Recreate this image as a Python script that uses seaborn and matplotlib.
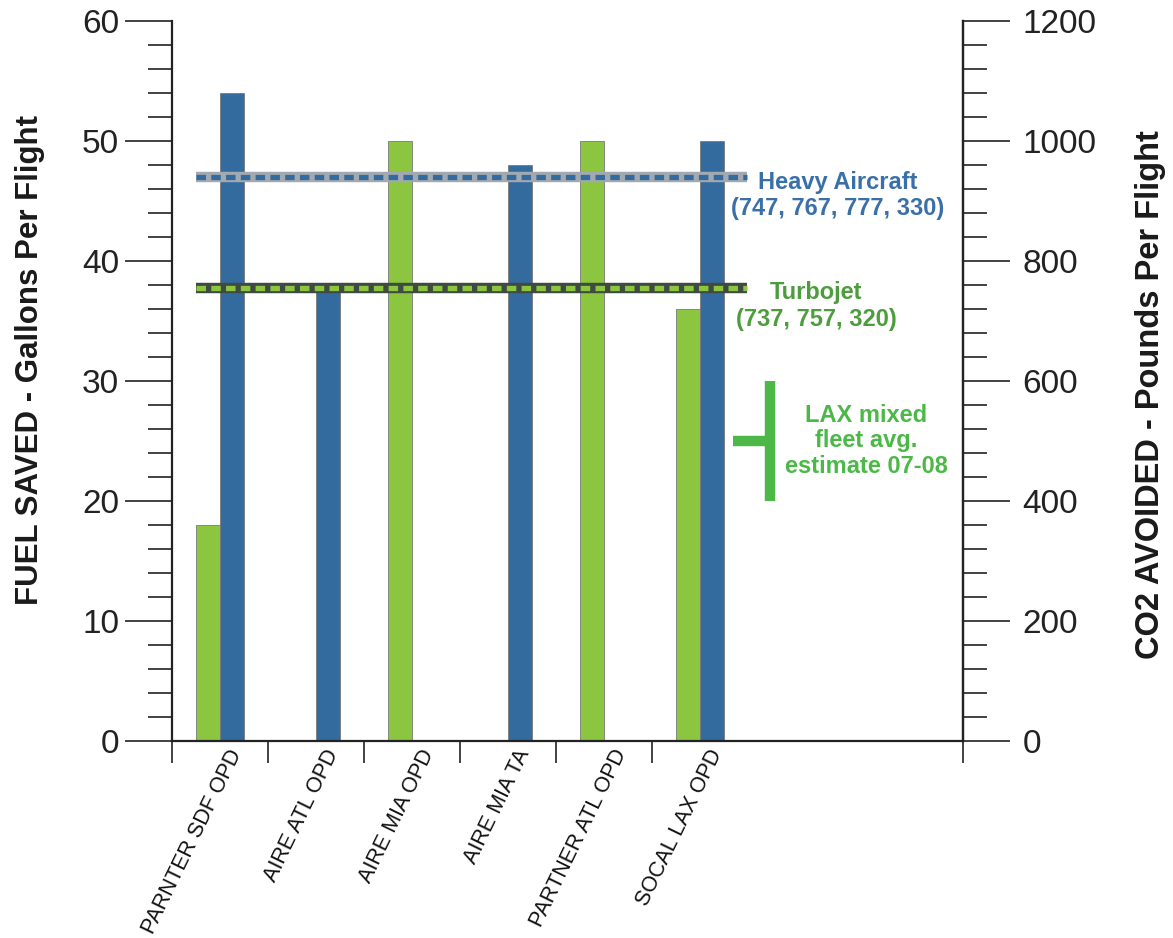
import numpy as np
import pandas as pd
import matplotlib
matplotlib.use("Agg")
import matplotlib.pyplot as plt
import matplotlib.transforms as mtransforms
from matplotlib.ticker import MultipleLocator, FixedLocator
import seaborn as sns

# data (gallons per flight)
categories = ["PARNTER SDF OPD", "AIRE ATL OPD", "AIRE MIA OPD",
              "AIRE MIA TA", "PARTNER ATL OPD", "SOCAL LAX OPD"]
turbojet_vals = [18, np.nan, 50, np.nan, 50, 36]
heavy_vals = [54, 37.5, np.nan, 48, np.nan, 50]
heavy_avg = 47
turbojet_avg = 37.75
lax_low, lax_avg, lax_high = 20, 25, 30

green = "#8cc641"
blue = "#346b9f"

sns.set_style("ticks")
plt.rcParams["font.family"] = ["Liberation Sans", "DejaVu Sans"]

rows = []
for cat, t, h in zip(categories, turbojet_vals, heavy_vals):
    if not np.isnan(t):
        rows.append({"category": cat, "fleet": "Turbojet", "gallons": t})
    if not np.isnan(h):
        rows.append({"category": cat, "fleet": "Heavy", "gallons": h})
df = pd.DataFrame(rows)

fig = plt.figure(figsize=(11.73, 9.38), dpi=100)
ax = fig.add_axes([172 / 1173, 1 - 741 / 938, (963 - 172) / 1173, 720 / 938])

sns.barplot(data=df, x="category", y="gallons", hue="fleet",
            order=categories, hue_order=["Turbojet", "Heavy"],
            palette={"Turbojet": green, "Heavy": blue},
            width=0.5, errorbar=None, legend=False, ax=ax,
            edgecolor="#7a7a7a", linewidth=0.6, saturation=1)

x_right = -0.5 + (963 - 172) / 96
ax.set_xlim(-0.5, x_right)
ax.set_ylim(0, 60)

# average reference lines: a wide band with dashes over it
ax.plot([-0.25, 5.49], [heavy_avg] * 2, color="#a3a9b0", lw=7.5,
        solid_capstyle="butt", zorder=4)
ax.plot([-0.25, 5.49], [heavy_avg] * 2, color=blue, lw=3.8,
        dashes=(1.8, 1.0), dash_capstyle="butt", zorder=5)
ax.plot([-0.25, 5.49], [turbojet_avg] * 2, color="#3f4a42", lw=7.5,
        solid_capstyle="butt", zorder=4)
ax.plot([-0.25, 5.49], [turbojet_avg] * 2, color=green, lw=3.8,
        dashes=(1.8, 1.0), dash_capstyle="butt", zorder=5)

# LAX mixed fleet range marker
lax_x = -0.5 + (770 - 172) / 96
ax.vlines(lax_x, lax_low, lax_high, color="#4cb848", lw=7.5,
          capstyle="butt", zorder=5)
ax.hlines(lax_avg, -0.5 + (733 - 172) / 96, lax_x, color="#4cb848",
          lw=7.5, capstyle="butt", zorder=5)

ax.text(-0.5 + (838 - 172) / 96, heavy_avg - 1.55,
        "Heavy Aircraft\n(747, 767, 777, 330)", color="#3a70a8",
        fontsize=17, fontweight="bold", ha="center", va="center",
        linespacing=1.2)
ax.text(-0.5 + (816 - 172) / 96, turbojet_avg - 1.5,
        "Turbojet\n(737, 757, 320)", color="#4d9d3f",
        fontsize=17, fontweight="bold", ha="center", va="center",
        linespacing=1.2)
ax.text(-0.5 + (866 - 172) / 96, lax_avg,
        "LAX mixed\nfleet avg.\nestimate 07-08", color="#4cb848",
        fontsize=17, fontweight="bold", ha="center", va="center",
        linespacing=1.15)

# axes styling
ax.spines["top"].set_visible(False)
for side in ["left", "bottom", "right"]:
    ax.spines[side].set_linewidth(1.6)
    ax.spines[side].set_color("#222222")

ax.yaxis.set_major_locator(MultipleLocator(10))
ax.yaxis.set_minor_locator(MultipleLocator(2))
ax.tick_params(axis="y", which="major", length=34, width=1.2,
               labelsize=24, pad=4, colors="#222222")
ax.tick_params(axis="y", which="minor", length=17, width=1.2,
               colors="#222222")

ax.set_xticks(range(len(categories)))
ax.xaxis.set_minor_locator(FixedLocator(list(np.arange(-0.5, 5, 1.0)) + [x_right]))
ax.tick_params(axis="x", which="major", length=0, pad=4)
ax.tick_params(axis="x", which="minor", length=16, width=1.2,
               colors="#222222")
ax.set_xticklabels(categories, rotation=64, ha="right", va="center",
                   rotation_mode="anchor", fontsize=15.5, color="#111111")
offset = mtransforms.ScaledTranslation(0.17, -0.04, fig.dpi_scale_trans)
for lbl in ax.get_xticklabels():
    lbl.set_transform(lbl.get_transform() + offset)
ax.set_xlabel("")
ax.set_ylabel("")

ax2 = ax.twinx()
ax2.set_ylim(0, 1200)
ax2.yaxis.set_major_locator(MultipleLocator(200))
ax2.yaxis.set_minor_locator(MultipleLocator(40))
ax2.tick_params(axis="y", which="major", length=34, width=1.2,
                labelsize=24, pad=9, colors="#222222")
ax2.tick_params(axis="y", which="minor", length=17, width=1.2,
                colors="#222222")
for side in ["top", "left", "bottom"]:
    ax2.spines[side].set_visible(False)
ax2.spines["right"].set_linewidth(1.6)
ax2.spines["right"].set_color("#222222")

fig.text(30 / 1173, 1 - 360 / 938, "FUEL SAVED - Gallons Per Flight",
         rotation=90, fontsize=22.5, fontweight="bold", ha="center",
         va="center", color="#1a1a1a")
fig.text(1151 / 1173, 1 - 395 / 938, "CO2 AVOIDED - Pounds Per Flight",
         rotation=90, fontsize=23.5, fontweight="bold", ha="center",
         va="center", color="#1a1a1a")

fig.savefig("out.png", dpi=100)
